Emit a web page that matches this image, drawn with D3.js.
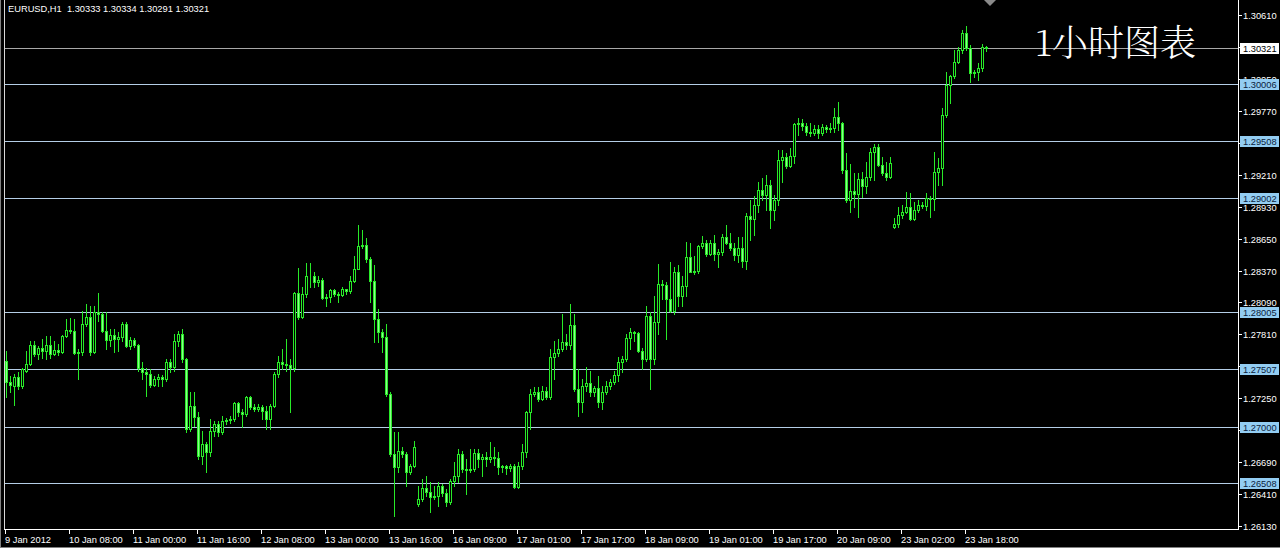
<!DOCTYPE html>
<html>
<head>
<meta charset="utf-8">
<script src="https://cdn.jsdelivr.net/npm/d3@7"></script>
<style>
  html, body { margin: 0; padding: 0; background: #000; }
  svg { display: block; }
  text { font-family: "Liberation Sans", Arial, sans-serif; font-size: 9.3px; }
</style>
</head>
<body>
<div id="chart"></div>
<script>
// 标题与价格
var header = "EURUSD,H1  1.30333 1.30334 1.30291 1.30321";
var caption = "1小时图表";
var lastPrice = 1.30321;

// 水平线(价位)
var levels = [1.30006, 1.29508, 1.29002, 1.28005, 1.27507, 1.27000, 1.26508];

// 价格刻度(被价位标签完全遮住的不画文字)
var priceTicks = [1.30610, 1.30330, 1.30050, 1.29770, 1.29490, 1.29210, 1.28930, 1.28650,
    1.28370, 1.28090, 1.27810, 1.27530, 1.27250, 1.26970, 1.26690, 1.26410, 1.26130];
var priceLabels = [1.30610, 1.30050, 1.29770, 1.29210, 1.28930, 1.28650,
    1.28370, 1.28090, 1.27810, 1.27250, 1.26690, 1.26410, 1.26130];

// 时间刻度
var timeLabels = ["9 Jan 2012", "10 Jan 08:00", "11 Jan 00:00", "11 Jan 16:00", "12 Jan 08:00",
    "13 Jan 00:00", "13 Jan 16:00", "16 Jan 09:00", "17 Jan 01:00", "17 Jan 17:00",
    "18 Jan 09:00", "19 Jan 01:00", "19 Jan 17:00", "20 Jan 09:00", "23 Jan 02:00", "23 Jan 18:00"];
var timeTickBars = [0, 16, 32, 48, 64, 80, 96, 112, 128, 144, 160, 176, 192, 208, 224, 240];

// K线 [open, high, low, close]
var candles = [
[1.27573,1.27661,1.27259,1.27390],[1.27390,1.27443,1.27303,1.27363],[1.27355,1.27460,1.27188,1.27434],
[1.27434,1.27478,1.27329,1.27355],[1.27355,1.27512,1.27337,1.27504],[1.27486,1.27661,1.27478,1.27547],
[1.27547,1.27748,1.27538,1.27713],[1.27713,1.27748,1.27618,1.27635],[1.27635,1.27705,1.27591,1.27687],
[1.27687,1.27766,1.27600,1.27661],[1.27661,1.27793,1.27591,1.27713],[1.27713,1.27793,1.27600,1.27635],
[1.27635,1.27748,1.27626,1.27670],[1.27670,1.27722,1.27626,1.27653],[1.27653,1.27801,1.27644,1.27793],
[1.27793,1.27941,1.27784,1.27845],[1.27845,1.27950,1.27819,1.27836],[1.27836,1.27941,1.27635,1.27644],
[1.27644,1.27679,1.27416,1.27653],[1.27653,1.28011,1.27626,1.27897],[1.27897,1.28072,1.27880,1.27959],
[1.27959,1.28055,1.27626,1.27653],[1.27653,1.28055,1.27644,1.28003],[1.28003,1.28169,1.27923,1.27985],
[1.27985,1.28003,1.27828,1.27836],[1.27836,1.28003,1.27679,1.27757],[1.27757,1.27854,1.27705,1.27801],
[1.27801,1.27854,1.27653,1.27766],[1.27766,1.27828,1.27661,1.27784],[1.27784,1.27915,1.27748,1.27897],
[1.27897,1.27915,1.27696,1.27705],[1.27705,1.27784,1.27679,1.27757],[1.27757,1.27775,1.27696,1.27713],
[1.27713,1.27722,1.27486,1.27512],[1.27512,1.27565,1.27416,1.27478],[1.27478,1.27512,1.27268,1.27460],
[1.27460,1.27504,1.27346,1.27363],[1.27363,1.27443,1.27355,1.27416],[1.27416,1.27460,1.27355,1.27434],
[1.27434,1.27451,1.27355,1.27416],[1.27416,1.27591,1.27398,1.27565],[1.27565,1.27591,1.27478,1.27521],
[1.27521,1.27810,1.27486,1.27748],[1.27748,1.27836,1.27705,1.27810],[1.27810,1.27854,1.27565,1.27591],
[1.27591,1.27600,1.26953,1.26979],[1.26979,1.27303,1.26961,1.27180],[1.27180,1.27303,1.27005,1.27084],
[1.27084,1.27128,1.26716,1.26743],[1.26743,1.26961,1.26672,1.26847],[1.26847,1.26865,1.26603,1.26778],
[1.26778,1.27066,1.26743,1.26961],[1.26961,1.27048,1.26918,1.27022],[1.27022,1.27048,1.26918,1.26953],
[1.26953,1.27093,1.26935,1.27048],[1.27048,1.27075,1.27022,1.27057],[1.27057,1.27093,1.27031,1.27066],
[1.27066,1.27215,1.27048,1.27206],[1.27206,1.27215,1.27093,1.27128],[1.27128,1.27154,1.26996,1.27110],
[1.27110,1.27268,1.27093,1.27259],[1.27259,1.27268,1.27154,1.27171],[1.27171,1.27197,1.27136,1.27154],
[1.27154,1.27197,1.27136,1.27171],[1.27171,1.27188,1.27066,1.27136],[1.27136,1.27180,1.26979,1.27066],
[1.27066,1.27197,1.26979,1.27180],[1.27180,1.27478,1.27171,1.27460],[1.27460,1.27618,1.27434,1.27565],
[1.27565,1.27679,1.27504,1.27547],[1.27547,1.27766,1.27486,1.27538],[1.27538,1.27591,1.27128,1.27512],
[1.27512,1.28178,1.27486,1.28169],[1.28169,1.28396,1.27941,1.27959],[1.27959,1.28221,1.27950,1.28160],
[1.28160,1.28440,1.28134,1.28318],[1.28318,1.28440,1.28221,1.28326],[1.28326,1.28353,1.28221,1.28273],
[1.28273,1.28318,1.28230,1.28291],[1.28291,1.28300,1.28116,1.28125],[1.28125,1.28160,1.28055,1.28134],
[1.28134,1.28212,1.28098,1.28195],[1.28195,1.28212,1.28143,1.28160],[1.28160,1.28178,1.28090,1.28151],
[1.28151,1.28221,1.28143,1.28204],[1.28204,1.28212,1.28160,1.28186],[1.28186,1.28318,1.28169,1.28282],
[1.28282,1.28493,1.28273,1.28387],[1.28387,1.28772,1.28379,1.28588],[1.28588,1.28729,1.28571,1.28597],
[1.28597,1.28659,1.28448,1.28475],[1.28475,1.28484,1.28098,1.28282],[1.28282,1.28422,1.27740,1.27941],
[1.27941,1.28029,1.27740,1.27828],[1.27828,1.27854,1.27653,1.27784],[1.27784,1.27897,1.27268,1.27285],
[1.27285,1.27303,1.26743,1.26760],[1.26760,1.26953,1.26218,1.26646],[1.26646,1.26953,1.26603,1.26786],
[1.26786,1.26821,1.26734,1.26760],[1.26760,1.26778,1.26480,1.26603],[1.26603,1.26672,1.26585,1.26655],
[1.26655,1.26873,1.26646,1.26821],[1.26322,1.26480,1.26305,1.26366],[1.26366,1.26541,1.26348,1.26462],
[1.26462,1.26568,1.26393,1.26428],[1.26428,1.26515,1.26253,1.26384],[1.26384,1.26480,1.26366,1.26393],
[1.26393,1.26515,1.26305,1.26480],[1.26480,1.26497,1.26393,1.26419],[1.26419,1.26454,1.26305,1.26340],
[1.26340,1.26541,1.26322,1.26523],[1.26523,1.26690,1.26480,1.26568],[1.26568,1.26804,1.26515,1.26760],
[1.26760,1.26786,1.26603,1.26629],[1.26629,1.26716,1.26410,1.26620],[1.26620,1.26804,1.26603,1.26629],
[1.26629,1.26804,1.26611,1.26769],[1.26769,1.26804,1.26646,1.26716],[1.26716,1.26760,1.26568,1.26734],
[1.26734,1.26778,1.26655,1.26716],[1.26716,1.26865,1.26690,1.26734],[1.26734,1.26821,1.26663,1.26725],
[1.26725,1.26778,1.26585,1.26646],[1.26646,1.26663,1.26603,1.26655],[1.26655,1.26663,1.26585,1.26637],
[1.26637,1.26672,1.26611,1.26655],[1.26655,1.26672,1.26462,1.26471],[1.26471,1.26690,1.26462,1.26655],
[1.26655,1.26847,1.26629,1.26778],[1.26778,1.27136,1.26734,1.27128],[1.27128,1.27329,1.26979,1.27285],
[1.27285,1.27346,1.27268,1.27303],[1.27303,1.27346,1.27223,1.27241],[1.27241,1.27355,1.27232,1.27311],
[1.27311,1.27346,1.27241,1.27259],[1.27259,1.27679,1.27241,1.27609],[1.27609,1.27748,1.27416,1.27644],
[1.27644,1.27766,1.27618,1.27679],[1.27679,1.27985,1.27661,1.27740],[1.27740,1.27810,1.27679,1.27713],
[1.27713,1.28072,1.27679,1.27888],[1.27888,1.27985,1.27311,1.27329],[1.27329,1.27504,1.27093,1.27215],
[1.27215,1.27416,1.27128,1.27355],[1.27355,1.27521,1.27311,1.27381],[1.27381,1.27486,1.27268,1.27303],
[1.27303,1.27355,1.27268,1.27337],[1.27337,1.27443,1.27171,1.27215],[1.27215,1.27355,1.27154,1.27303],
[1.27303,1.27398,1.27285,1.27355],[1.27355,1.27416,1.27329,1.27390],[1.27390,1.27486,1.27372,1.27451],
[1.27451,1.27609,1.27398,1.27565],[1.27565,1.27618,1.27478,1.27591],[1.27591,1.27810,1.27573,1.27775],
[1.27775,1.27862,1.27679,1.27828],[1.27828,1.27836,1.27748,1.27819],[1.27819,1.27828,1.27653,1.27661],
[1.27661,1.27687,1.27504,1.27591],[1.27591,1.28063,1.27573,1.27968],[1.27968,1.28003,1.27329,1.27591],
[1.27591,1.28143,1.27547,1.27915],[1.27915,1.28431,1.27810,1.28256],[1.28256,1.28291,1.28116,1.28247],
[1.28247,1.28273,1.27766,1.28116],[1.28116,1.28448,1.28003,1.28011],[1.28011,1.28405,1.27985,1.28353],
[1.28353,1.28414,1.28055,1.28143],[1.28143,1.28318,1.28055,1.28238],[1.28238,1.28623,1.28143,1.28484],
[1.28484,1.28615,1.28353,1.28361],[1.28361,1.28493,1.28335,1.28370],[1.28370,1.28597,1.28344,1.28588],
[1.28588,1.28676,1.28571,1.28615],[1.28615,1.28641,1.28501,1.28519],[1.28519,1.28641,1.28510,1.28615],
[1.28615,1.28685,1.28466,1.28519],[1.28519,1.28562,1.28405,1.28536],[1.28536,1.28694,1.28510,1.28668],
[1.28668,1.28772,1.28606,1.28615],[1.28615,1.28703,1.28554,1.28571],[1.28571,1.28615,1.28466,1.28510],
[1.28510,1.28668,1.28448,1.28571],[1.28571,1.28668,1.28405,1.28457],[1.28457,1.28878,1.28379,1.28851],
[1.28851,1.28991,1.28641,1.28825],[1.28825,1.29026,1.28685,1.28947],[1.28947,1.29148,1.28886,1.29079],
[1.29079,1.29184,1.28991,1.29035],[1.29035,1.29210,1.28904,1.29122],[1.29122,1.29166,1.28746,1.28904],
[1.28904,1.29035,1.28816,1.28991],[1.28991,1.29429,1.28947,1.29341],[1.29341,1.29429,1.29148,1.29368],
[1.29368,1.29403,1.29271,1.29288],[1.29288,1.29446,1.29280,1.29376],[1.29376,1.29665,1.29315,1.29656],
[1.29656,1.29709,1.29560,1.29665],[1.29665,1.29700,1.29604,1.29638],[1.29638,1.29665,1.29560,1.29586],
[1.29586,1.29665,1.29551,1.29578],[1.29578,1.29647,1.29560,1.29612],[1.29612,1.29647,1.29534,1.29578],
[1.29578,1.29656,1.29560,1.29630],[1.29630,1.29647,1.29586,1.29612],[1.29612,1.29665,1.29586,1.29621],
[1.29621,1.29796,1.29586,1.29718],[1.29718,1.29848,1.29604,1.29665],[1.29665,1.29673,1.29228,1.29254],
[1.29254,1.29403,1.28973,1.28991],[1.28991,1.29306,1.28886,1.29070],[1.29070,1.29228,1.28930,1.29044],
[1.29044,1.29228,1.28843,1.29175],[1.29175,1.29236,1.29018,1.29113],[1.29113,1.29323,1.29053,1.29193],
[1.29193,1.29446,1.29166,1.29411],[1.29411,1.29481,1.29166,1.29455],[1.29455,1.29481,1.29288,1.29297],
[1.29297,1.29368,1.29210,1.29228],[1.29228,1.29323,1.29166,1.29193],[1.29193,1.29368,1.29184,1.29315],
[1.28755,1.28834,1.28746,1.28781],[1.28781,1.28930,1.28755,1.28860],[1.28860,1.28947,1.28834,1.28886],
[1.28886,1.29061,1.28878,1.28930],[1.28930,1.29053,1.28816,1.28825],[1.28825,1.28973,1.28816,1.28904],
[1.28904,1.28991,1.28886,1.28947],[1.28947,1.28973,1.28921,1.28938],[1.28938,1.29053,1.28904,1.29009],
[1.29009,1.29026,1.28843,1.29000],[1.29000,1.29411,1.28904,1.29236],[1.29236,1.29359,1.29122,1.29271],
[1.29271,1.29796,1.29122,1.29735],[1.29735,1.30111,1.29718,1.29997],[1.29997,1.30085,1.29840,1.30076],
[1.30076,1.30304,1.30059,1.30198],[1.30198,1.30330,1.30190,1.30304],[1.30304,1.30479,1.30278,1.30453],
[1.30453,1.30513,1.30304,1.30321],[1.30321,1.30347,1.30023,1.30103],[1.30103,1.30129,1.30068,1.30111],
[1.30111,1.30190,1.30041,1.30146],[1.30146,1.30356,1.30120,1.30330],[1.30333,1.30334,1.30291,1.30321]
];

    // 画布尺寸
    var W = 1280, H = 548;
    var plotLeft = 4, plotRight = 1238, plotBottom = 529;
    var candleColor = "#28ea28", bearFill = "#8cff8c";

    var svg = d3.select("#chart")
        .append("svg")
        .attr("width", W)
        .attr("height", H)
        .style("background", "#000");

    // 比例尺
    var x = d3.scaleLinear()
        .domain([0, candles.length - 1])
        .range([6, 6 + 4 * (candles.length - 1)]);
    var y = d3.scaleLinear()
        .domain([1.26130, 1.30610])
        .range([526, 15]);

    function py(v) { return Math.round(y(v)); }

    // 外框
    svg.append("line").attr("x1", 0.5).attr("x2", 0.5).attr("y1", 0).attr("y2", H)
        .attr("stroke", "#808080");
    svg.append("line").attr("x1", 0).attr("x2", W).attr("y1", H - 0.5).attr("y2", H - 0.5)
        .attr("stroke", "#808080");
    svg.append("line").attr("x1", plotLeft + 0.5).attr("x2", plotLeft + 0.5).attr("y1", 0).attr("y2", plotBottom)
        .attr("stroke", "#d8d8d8");
    svg.append("line").attr("x1", plotRight + 0.5).attr("x2", plotRight + 0.5).attr("y1", 0).attr("y2", plotBottom + 1)
        .attr("stroke", "#fff");
    svg.append("line").attr("x1", plotLeft).attr("x2", plotRight + 1).attr("y1", plotBottom + 0.5).attr("y2", plotBottom + 0.5)
        .attr("stroke", "#fff");

    // 价格刻度
    var yAxis = svg.append("g").attr("class", "y-axis");
    yAxis.selectAll("line")
        .data(priceTicks)
        .enter().append("line")
        .attr("x1", plotRight).attr("x2", plotRight + 4)
        .attr("y1", function(d) { return py(d) + 0.5; })
        .attr("y2", function(d) { return py(d) + 0.5; })
        .attr("stroke", "#fff");
    yAxis.selectAll("text")
        .data(priceLabels)
        .enter().append("text")
        .attr("x", plotRight + 5)
        .attr("y", function(d) { return py(d) + 3.5; })
        .attr("fill", "#fff")
        .text(function(d) { return d.toFixed(5); });

    // 时间刻度
    var xAxis = svg.append("g").attr("class", "x-axis");
    xAxis.selectAll("line")
        .data(timeTickBars)
        .enter().append("line")
        .attr("x1", function(d) { return x(d) - 0.5; })
        .attr("x2", function(d) { return x(d) - 0.5; })
        .attr("y1", plotBottom).attr("y2", plotBottom + 5)
        .attr("stroke", "#fff");
    xAxis.selectAll("text")
        .data(timeTickBars)
        .enter().append("text")
        .attr("x", function(d) { return x(d) - 1; })
        .attr("y", 543)
        .attr("fill", "#fff")
        .text(function(d, i) { return timeLabels[i]; });

    // 水平价位线
    svg.selectAll("line.level")
        .data(levels)
        .enter().append("line")
        .attr("class", "level")
        .attr("x1", plotLeft + 1).attr("x2", plotRight)
        .attr("y1", function(d) { return py(d) + 0.5; })
        .attr("y2", function(d) { return py(d) + 0.5; })
        .attr("stroke", "#b4cde6");

    // 当前价线
    svg.append("line")
        .attr("x1", plotLeft + 1).attr("x2", plotRight)
        .attr("y1", py(lastPrice) + 0.5).attr("y2", py(lastPrice) + 0.5)
        .attr("stroke", "#a8a8a8");

    // K线
    var candle = svg.append("g").attr("class", "candles")
        .selectAll("g")
        .data(candles)
        .enter().append("g");

    candle.append("line")
        .attr("x1", function(d, i) { return x(i) + 0.5; })
        .attr("x2", function(d, i) { return x(i) + 0.5; })
        .attr("y1", function(d) { return py(d[1]); })
        .attr("y2", function(d) { return py(d[2]) + 1; })
        .attr("stroke", candleColor);

    candle.append("rect")
        .attr("x", function(d, i) { return x(i) - 0.5; })
        .attr("y", function(d) { return py(Math.max(d[0], d[3])) + 0.5; })
        .attr("width", 2)
        .attr("height", function(d) { return Math.max(0, py(Math.min(d[0], d[3])) - py(Math.max(d[0], d[3]))); })
        .attr("fill", function(d) { return d[3] >= d[0] ? "#000" : bearFill; })
        .attr("stroke", candleColor)
        .attr("stroke-width", 1);

    // 价位标签
    var tag = svg.selectAll("g.tag")
        .data(levels)
        .enter().append("g")
        .attr("class", "tag");
    tag.append("rect")
        .attr("x", plotRight + 2).attr("width", 39)
        .attr("y", function(d) { return py(d) - 5; })
        .attr("height", 11)
        .attr("fill", "#93cdf2");
    tag.append("text")
        .attr("x", plotRight + 5)
        .attr("y", function(d) { return py(d) + 3.5; })
        .attr("fill", "#0b1c3a")
        .text(function(d) { return d.toFixed(5); });

    var cur = svg.append("g");
    cur.append("rect")
        .attr("x", plotRight + 2).attr("width", 39)
        .attr("y", py(lastPrice) - 5).attr("height", 11)
        .attr("fill", "#fff");
    cur.append("text")
        .attr("x", plotRight + 5)
        .attr("y", py(lastPrice) + 3.5)
        .attr("fill", "#000")
        .text(lastPrice.toFixed(5));

    // 图表右移标记
    svg.append("path")
        .attr("d", "M984,0L996,0L990,6Z")
        .attr("fill", "#8a8a8a");

    // 标题
    svg.append("text")
        .attr("x", 8).attr("y", 12)
        .attr("fill", "#fff")
        .style("white-space", "pre")
        .text(header);

    svg.append("text")
        .attr("x", 1035).attr("y", 56)
        .attr("fill", "#fff")
        .style("font-family", "'Noto Serif CJK SC', 'Noto Sans CJK SC', serif")
        .style("font-size", "36px")
        .style("font-weight", 300)
        .text(caption);
</script>
</body>
</html>
